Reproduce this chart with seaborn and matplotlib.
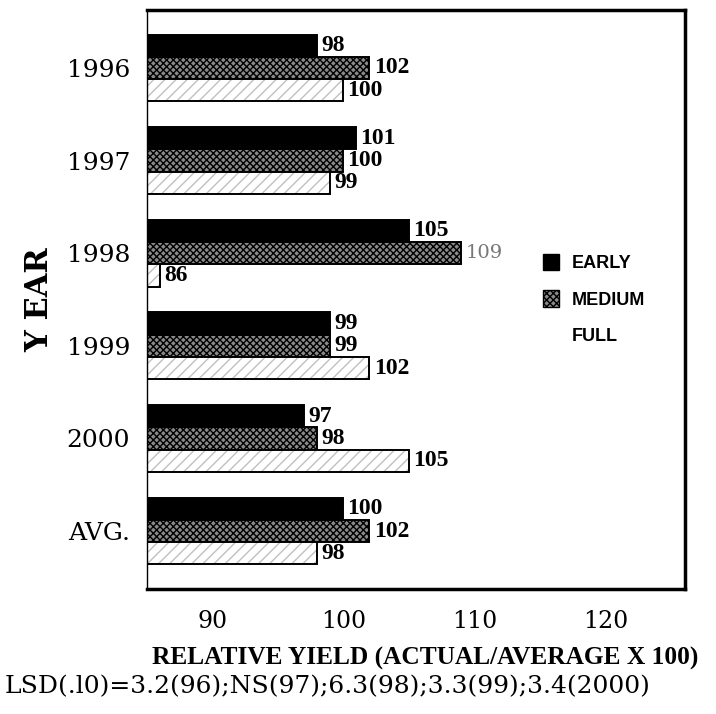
import matplotlib
matplotlib.use('Agg')
import pandas as pd
import matplotlib.pyplot as plt
import matplotlib.patches as mpatches
import seaborn as sns

# relative yield (actual/average x 100) by harvest timing
years = ["1996", "1997", "1998", "1999", "2000", "AVG."]
early = [98, 101, 105, 99, 97, 100]
medium = [102, 100, 109, 99, 98, 102]
full = [100, 99, 86, 102, 105, 98]
groups = ["EARLY", "MEDIUM", "FULL"]
xticks = [90, 100, 110, 120]

df = pd.DataFrame({"year": years * 3,
                   "group": [g for g in groups for _ in years],
                   "value": early + medium + full})

sns.set_style("white")
plt.rcParams['font.family'] = ['DejaVu Serif', 'DejaVu Sans']
plt.rcParams['hatch.linewidth'] = 1.0
for k in ['text.color', 'axes.labelcolor', 'xtick.color', 'ytick.color', 'axes.edgecolor']:
    plt.rcParams[k] = 'black'

fig, ax = plt.subplots(figsize=(7.16, 7.14), dpi=100)
fig.subplots_adjust(left=0.205, right=0.957, top=0.986, bottom=0.175)

med_col = "#8a8a8a"
pal = {"EARLY": "black", "MEDIUM": med_col, "FULL": "white"}
sns.barplot(data=df, x="value", y="year", hue="group", hue_order=groups,
            palette=pal, orient="h", width=0.72, saturation=1,
            edgecolor="black", linewidth=1.4, legend=False, ax=ax)

ax.set_xlim(85, 126.1)
ax.set_ylim(5.626, -0.626)

# hatching like the photocopied original
c_early, c_med, c_full = ax.containers
for p in c_med:
    p.set_hatch("xxxxx")
for p in c_full:
    p.set_edgecolor("#c0c0c0")
    p.set_hatch("///")
    p.set_linewidth(0)
    ax.add_patch(mpatches.Rectangle(p.get_xy(), p.get_width(), p.get_height(),
                                    fill=False, edgecolor="black", linewidth=1.4))

# value labels
for cont, vals in zip(ax.containers, [early, medium, full]):
    txts = ax.bar_label(cont, labels=[str(v) for v in vals], padding=3,
                        fontsize=17, fontweight="bold", family="Liberation Serif")
    for t, v in zip(txts, vals):
        if v == 109:
            t.set_fontweight("normal")
            t.set_color("#777777")
            t.set_family("DejaVu Serif")
            t.set_fontsize(14)

# frame
for side in ["top", "right", "bottom"]:
    ax.spines[side].set_linewidth(2.5)
ax.spines["left"].set_linewidth(1.0)

ax.set_xticks(xticks)
ax.set_xticklabels([str(t) for t in xticks], fontsize=17)
ax.tick_params(axis="x", length=0, pad=15)
ax.tick_params(axis="y", length=0, pad=12, labelsize=18)
ax.set_ylabel("Y EAR", fontsize=22, fontweight="bold", labelpad=8)
ax.set_xlabel("RELATIVE YIELD (ACTUAL/AVERAGE X 100)", fontsize=18.3,
              fontweight="bold", family="Liberation Serif")
ax.xaxis.set_label_coords(0.517, -0.100)

fig.text(0.006, 0.038, "LSD(.l0)=3.2(96);NS(97);6.3(98);3.3(99);3.4(2000)",
         fontsize=18, ha="left", va="center")

# legend
handles = [mpatches.Patch(facecolor="black", edgecolor="black"),
           mpatches.Patch(facecolor=med_col, edgecolor="black", hatch="xxxxx"),
           mpatches.Patch(facecolor="white", edgecolor="white")]
ax.legend(handles, groups, loc="center left", bbox_to_anchor=(0.705, 0.50),
          frameon=False, prop={"family": "Liberation Sans", "weight": "bold", "size": 13},
          handlelength=0.9, handleheight=1.0, labelspacing=1.0, handletextpad=0.7)

fig.savefig("out.png", dpi=100)
